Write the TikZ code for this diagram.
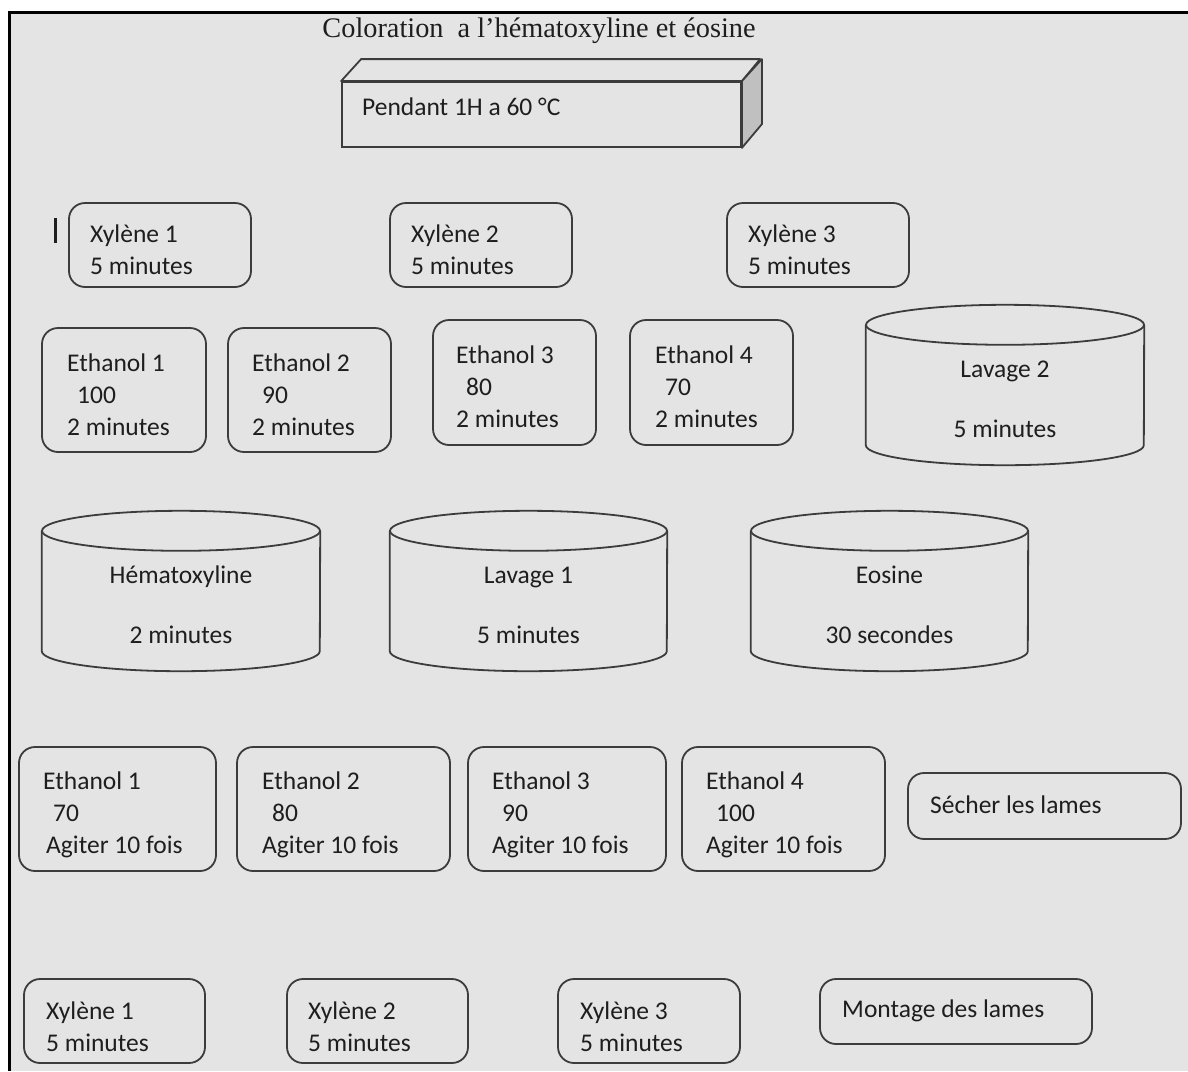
\documentclass[tikz,border=0pt]{standalone}
\usepackage{fontspec}
\setmainfont{Carlito}
\newfontfamily\titlefont{Liberation Serif}

\definecolor{pagegray}{HTML}{E4E4E4}
\definecolor{edge}{HTML}{3C3C3C}
\definecolor{ink}{HTML}{1E1E1E}
\definecolor{sideface}{HTML}{C0C0C0}

\tikzset{
  boxline/.style={draw=edge, line width=1.8pt},
  stepbox/.style={boxline, rounded corners=16pt, inner sep=0pt},
  txt/.style={text=ink, font=\fontsize{25.5}{32}\selectfont, inner sep=0pt, align=left},
}

% rounded step card: name, x1, y1, x2, y2, text x, text y, text
\newcommand\stepcard[8]{%
  \node[stepbox, minimum width=#4-#2, minimum height=#5-#3] (#1) at ({(#2+#4)/2},{(#3+#5)/2}) {};
  \node[txt, anchor=west] (#1-t) at (#6,#7+2) {#8};
}

% open tub (cylinder): name, centre x, half width, top y, bottom y, text
\newcommand\tub[6]{%
  \node[inner sep=0pt, minimum width=2*#3, minimum height=#5-#4] (#1) at (#2,{(#4+#5)/2}) {};
  \draw[boxline] (#1.north west) -- (#1.south west)
    arc[start angle=180, end angle=360, x radius=#3pt, y radius=20pt] -- (#1.north east);
  \draw[boxline] (#1.north) ellipse[x radius=#3pt, y radius=20pt];
  \node[txt, align=center] (#1-t) at (#2,#4+74) {#6};
}

\begin{document}
\begin{tikzpicture}[x=1pt, y=-1pt]
  \useasboundingbox (0,0) rectangle (1188,1071);
  \fill[white] (0,0) rectangle (1188,1071);
  \fill[pagegray] (10,12) rectangle (1188,1071);
  \draw[black, line width=2.5pt] (9.25,1071) -- (9.25,12.25) -- (1188,12.25);

  % title
  \node[text=ink, font=\titlefont\fontsize{28.3}{34}\selectfont, inner sep=0pt] (title)
    at (539,31) {Coloration\ \ a l’hématoxyline et éosine};

  % oven block
  \node[boxline, fill=pagegray, minimum width=399, minimum height=65, inner sep=0pt] (oven) at (541.5,114.5) {};
  \draw[boxline, fill=pagegray, line join=round] (oven.north west) -- ++(20,-22) -- ++(399,0) -- (oven.north east) -- cycle;
  \draw[boxline, fill=sideface, line join=round] (oven.north east) -- ++(20,-22) -- ++(0,65) -- (oven.south east) -- cycle;
  \node[txt, anchor=west] (oven-t) at (362,107) {Pendant 1H a 60 °C};

  % text cursor mark
  \draw[ink, line width=3pt] (55,218) -- (55,243);

  % xylene baths
  \stepcard{xa}{69}{203}{251}{287}{90}{247.5}{Xylène 1\\5 minutes}
  \stepcard{xb}{390}{203}{572}{287}{411}{247.5}{Xylène 2\\5 minutes}
  \stepcard{xc}{727}{203}{909}{287}{748}{247.5}{Xylène 3\\5 minutes}

  % descending ethanol baths
  \stepcard{ea}{42}{328}{206}{452}{67}{392.5}{Ethanol 1\\\hspace*{10pt}100\\2 minutes}
  \stepcard{eb}{228}{328}{391}{452}{252}{392.5}{Ethanol 2\\\hspace*{10pt}90\\2 minutes}
  \stepcard{ec}{433}{320}{596}{445}{456}{384.5}{Ethanol 3\\\hspace*{10pt}80\\2 minutes}
  \stepcard{ed}{630}{320}{793}{445}{655}{384.5}{Ethanol 4\\\hspace*{10pt}70\\2 minutes}

  % staining and washing tubs
  \tub{wash2}{1005}{139}{325}{445}{Lavage 2\\[28pt]5 minutes}
  \tub{hema}{181}{139}{531}{651}{Hématoxyline\\[28pt]2 minutes}
  \tub{wash1}{528.5}{138.5}{531}{651}{Lavage 1\\[28pt]5 minutes}
  \tub{eos}{889.5}{138.5}{531}{651}{Eosine\\[28pt]30 secondes}

  % ascending ethanol baths
  \stepcard{fa}{19}{747}{216}{871}{43}{813}{Ethanol 1\\\hspace*{10pt}70\\\hspace*{3pt}Agiter 10 fois}
  \stepcard{fb}{237}{747}{450}{871}{262}{813}{Ethanol 2\\\hspace*{10pt}80\\Agiter 10 fois}
  \stepcard{fc}{468}{747}{666}{871}{492}{813}{Ethanol 3\\\hspace*{10pt}90\\Agiter 10 fois}
  \stepcard{fd}{682}{747}{885}{871}{706}{813}{Ethanol 4\\\hspace*{10pt}100\\Agiter 10 fois}
  \stepcard{dry}{908}{773}{1181}{839}{930}{802.5}{Sécher les lames}

  % final xylene baths and mounting
  \stepcard{za}{24}{979}{205}{1063}{46}{1024.5}{Xylène 1\\5 minutes}
  \stepcard{zb}{287}{979}{468}{1063}{308}{1024.5}{Xylène 2\\5 minutes}
  \stepcard{zc}{558}{979}{740}{1063}{580}{1024.5}{Xylène 3\\5 minutes}
  \stepcard{mount}{820}{979}{1092}{1044}{842}{1009}{Montage des lames}
\end{tikzpicture}
\end{document}
